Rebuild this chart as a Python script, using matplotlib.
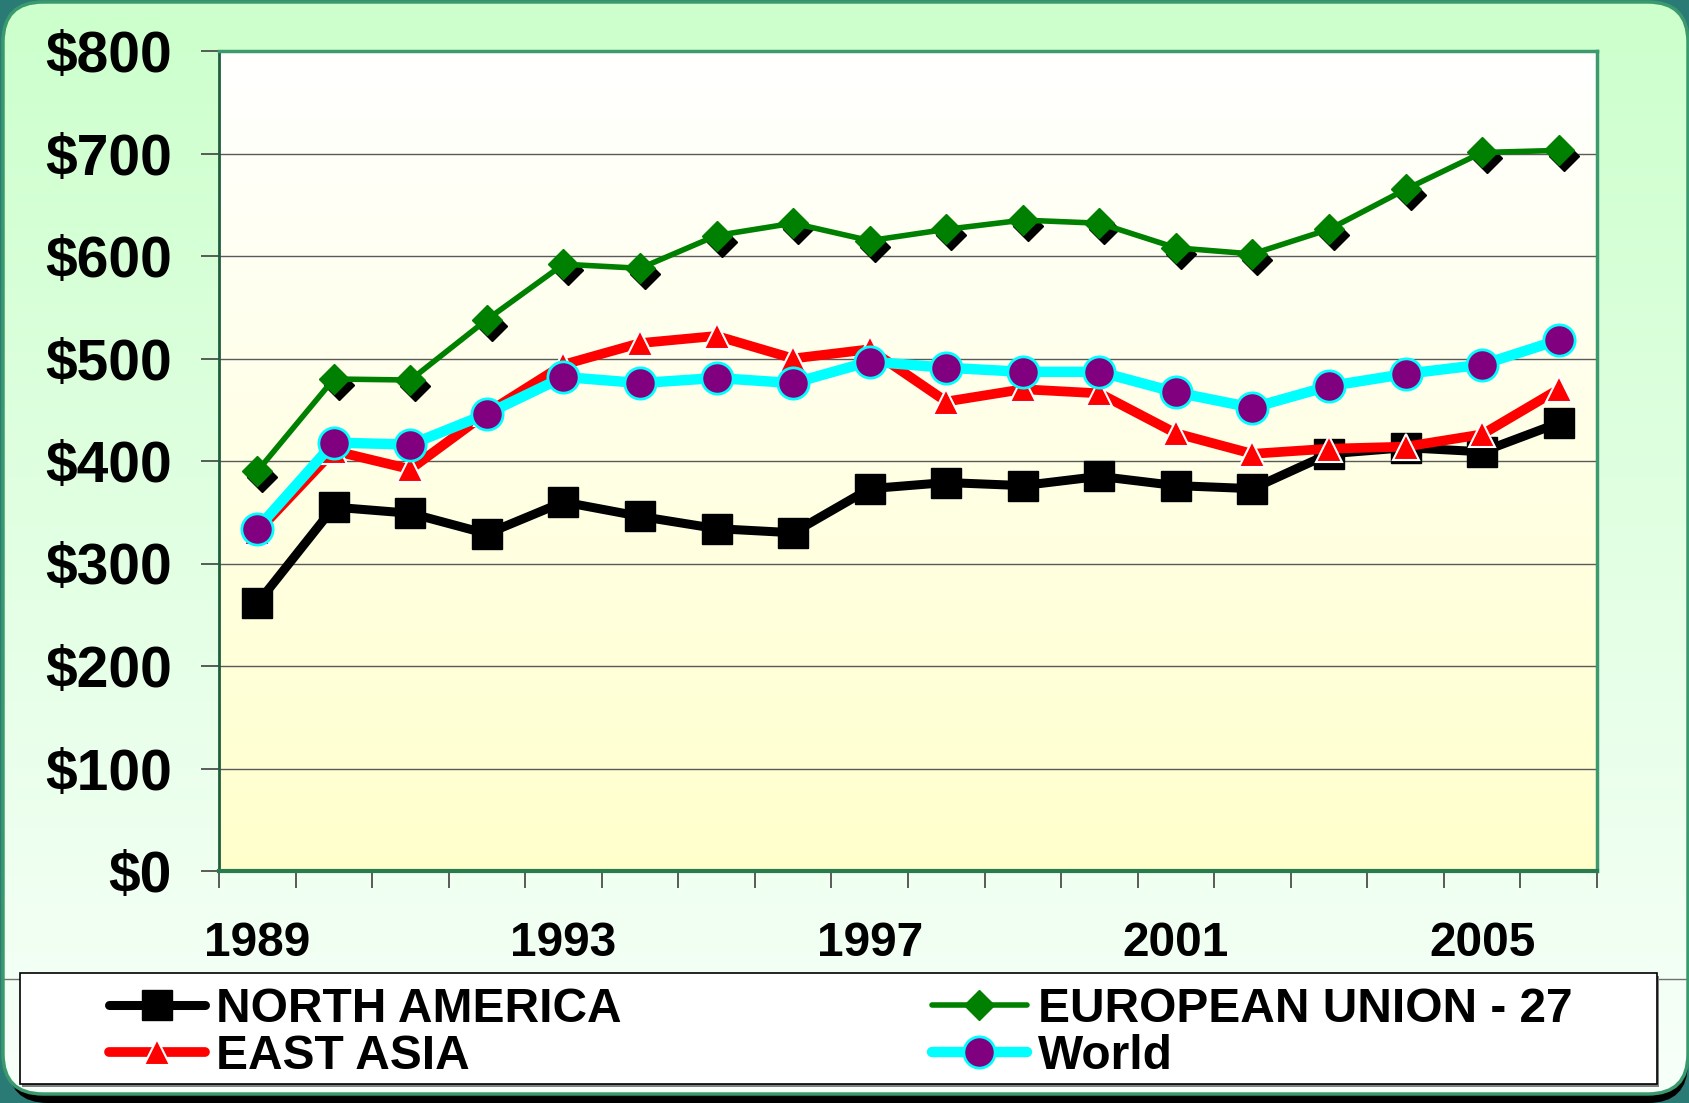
import numpy as np
import matplotlib
matplotlib.use("Agg")
import matplotlib.pyplot as plt
from matplotlib.patches import FancyBboxPatch, Rectangle
from matplotlib.colors import to_rgb
from matplotlib.transforms import offset_copy

plt.rcParams['font.family'] = ['Liberation Sans', 'DejaVu Sans']
plt.rcParams['font.weight'] = 'bold'

# data (US$)
years = list(range(1989, 2007))
north_america = [261, 355, 349, 329, 360, 346, 334, 330, 373, 379, 376, 385, 376, 373, 407, 413, 409, 437]
eu27 = [390, 480, 479, 538, 592, 588, 620, 632, 615, 626, 635, 632, 608, 602, 626, 665, 701, 703]
east_asia = [331, 410, 392, 447, 494, 515, 522, 500, 509, 458, 470, 466, 427, 407, 412, 414, 426, 470]
world = [334, 418, 416, 446, 482, 476, 481, 476, 497, 491, 487, 487, 467, 452, 473, 485, 494, 518]
label_years = [1989, 1993, 1997, 2001, 2005]
y_ticks = [0, 100, 200, 300, 400, 500, 600, 700, 800]

W, H = 1690, 1103
fig = plt.figure(figsize=(W / 100, H / 100), dpi=100)
fig.patch.set_facecolor('#2a7a76')

# background: rounded green panel with shadow
bg = fig.add_axes([0, 0, 1, 1])
bg.set_xlim(0, W)
bg.set_ylim(H, 0)
bg.axis('off')

shadow = FancyBboxPatch((8, 10), W - 10, H - 10, boxstyle="round,pad=0,rounding_size=40",
                        fc='black', ec='none')
bg.add_patch(shadow)
panel = FancyBboxPatch((3, 2), W - 5, 1092, boxstyle="round,pad=0,rounding_size=40",
                       fc='none', ec='#3a9a6e', lw=2.5, zorder=3)
bg.add_patch(panel)
top_c = np.array(to_rgb('#ccffcc'))
bot_c = np.array(to_rgb('#f8fffa'))
t = np.linspace(0, 1, 256)[:, None, None]
grad = top_c * (1 - t) + bot_c * t
im = bg.imshow(grad, extent=(0, W, H, 0), aspect='auto', zorder=1)
im.set_clip_path(panel)

bg.axhline(979, xmin=3 / W, xmax=1688 / W, color='#707070', lw=1, zorder=2)

# legend frame
bg.add_patch(Rectangle((22, 976), 1637, 111, fc='#808080', ec='none', zorder=4))
bg.add_patch(Rectangle((20, 973), 1637, 111, fc='white', ec='black', lw=1.2, zorder=5))

# plot area
L, R, T, B = 219, 1597, 51, 871
ax = fig.add_axes([L / W, 1 - B / H, (R - L) / W, (B - T) / H])
ax.set_zorder(2)
ax.patch.set_visible(False)
pg = np.array(to_rgb('white')) * (1 - t) + np.array(to_rgb('#ffffcc')) * t
ax.imshow(pg, extent=(0, 1, 0, 1), transform=ax.transAxes, aspect='auto', zorder=0)

x = np.arange(len(years))

ax.plot(x, north_america, color='black', lw=6.5, marker='s', ms=21, mfc='black', mec='black',
        solid_capstyle='round', solid_joinstyle='round', zorder=3, label='NORTH AMERICA')
shadow_tr = offset_copy(ax.transData, fig=fig, x=5, y=-6, units='dots')
ax.plot(x, eu27, ls='none', marker='D', ms=15.5, mfc='black', mec='black', transform=shadow_tr, zorder=3.5)
ax.plot(x, eu27, color='#008000', lw=4, marker='D', ms=15.5, mfc='#008000', mec='#008000',
        solid_capstyle='round', solid_joinstyle='round', zorder=4, label='EUROPEAN UNION - 27')
ax.plot(x, east_asia, color='#ff0000', lw=7, marker='^', ms=19, mfc='#ff0000', mec='white', mew=1.5,
        solid_capstyle='round', solid_joinstyle='round', zorder=5, label='EAST ASIA')
ax.plot(x, world, color='#00ffff', lw=7.5, marker='o', ms=22.5, mfc='#800080', mec='#00ffff', mew=2,
        solid_capstyle='round', solid_joinstyle='round', zorder=6, label='World')

ax.set_xlim(-0.5, len(years) - 0.5)
ax.set_ylim(0, 800)
ax.set_yticks(y_ticks)
ax.set_yticklabels(['${}'.format(v) for v in y_ticks], fontsize=41, fontweight='bold')
ax.tick_params(axis='y', length=13, width=1.2, color='#404040', pad=21)
ax.grid(axis='y', color='#5a5a5a', lw=1)
ax.set_axisbelow(True)

ax.set_xticks(np.arange(-0.5, len(years), 1))
ax.set_xticklabels([])
ax.tick_params(axis='x', which='major', length=12, width=1.2, color='#404040')
ax.set_xticks([years.index(y) for y in label_years], minor=True)
ax.set_xticklabels([str(y) for y in label_years], minor=True, fontsize=34.5, fontweight='bold')
ax.tick_params(axis='x', which='minor', length=0, pad=36)

ax.spines['left'].set_color('#1e5e3e')
ax.spines['left'].set_linewidth(2)
ax.spines['bottom'].set_color('#2a7a50')
ax.spines['bottom'].set_linewidth(3)
for s in ['top', 'right']:
    ax.spines[s].set_color('#3c9a6e')
    ax.spines[s].set_linewidth(2.5)

h, l = ax.get_legend_handles_labels()
order = [0, 2, 1, 3]
x0, x1 = 109 / W, 1573 / W
yc = 1 - 1033 / H
fig.legend([h[i] for i in order], [l[i] for i in order], ncol=2, mode='expand', loc='center',
           bbox_to_anchor=(x0, yc - 0.05, x1 - x0, 0.1), bbox_transform=fig.transFigure,
           frameon=False, borderpad=0, borderaxespad=0, handlelength=2.0, handletextpad=0.23,
           labelspacing=0.04, prop={'size': 34.5, 'weight': 'bold'})

fig.savefig('out.png', dpi=100, facecolor=fig.get_facecolor())
